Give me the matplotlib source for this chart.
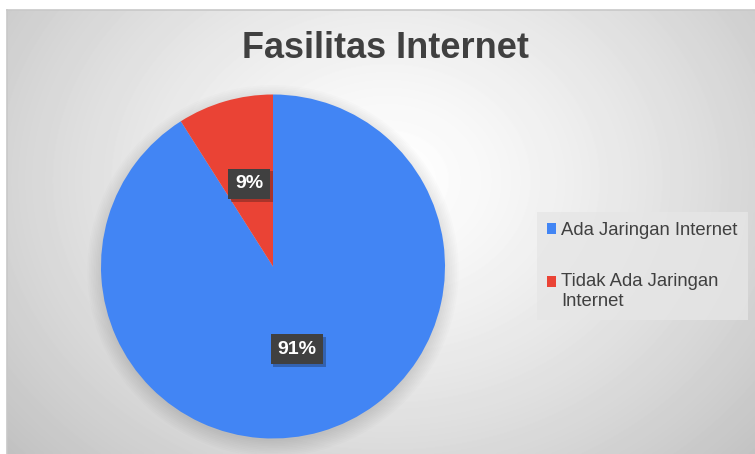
import numpy as np
import matplotlib.pyplot as plt
import matplotlib.patheffects as pe
from matplotlib.patches import Circle, Rectangle
from matplotlib.legend_handler import HandlerPatch

labels = ['Ada Jaringan Internet', 'Tidak Ada Jaringan\nInternet']
values = [91, 9]
colors = ['#4285F4', '#EA4335']
title = 'Fasilitas Internet'

W, H = 755, 454
fig = plt.figure(figsize=(W / 100, H / 100), dpi=100)
fig.patch.set_facecolor('white')

# radial gradient background of the chart area
bg = fig.add_axes([7 / W, 0, (W - 7) / W, (H - 10) / H])
yy, xx = np.mgrid[0:444, 0:748]
d = np.sqrt(((xx - 380) / 520.0) ** 2 + ((yy - 170) / 420.0) ** 2)
shade = 1.0 - 0.25 * np.clip(d, 0, 1) ** 1.3
bg.imshow(shade, cmap='gray', vmin=0, vmax=1, aspect='auto',
          extent=[0, 1, 0, 1], origin='upper', interpolation='bilinear')
bg.set_xlim(0, 1)
bg.set_ylim(0, 1)
for s in ['right', 'bottom']:
    bg.spines[s].set_visible(False)
for s in ['top', 'left']:
    bg.spines[s].set_color('#c8c8c8')
    bg.spines[s].set_linewidth(1.2)
bg.set_xticks([])
bg.set_yticks([])

fig.text(386 / W, 1 - 49 / H, title, ha='center', va='center',
         fontsize=26, fontweight='bold', color='#404040',
         family=['Liberation Sans Narrow', 'Liberation Sans', 'DejaVu Sans'])

# pie
cx, cy, r = 273, 266.5, 172
ax = fig.add_axes([(cx - 1.1 * r) / W, (H - cy - 1.1 * r) / H,
                   2.2 * r / W, 2.2 * r / H])
ax.patch.set_alpha(0)
# soft shadow, mostly below the pie
for k in range(10):
    ax.add_patch(Circle((0, -0.025), 0.99 + 0.01 * k, color='black',
                        alpha=0.012, lw=0, zorder=0))
wedges, texts, autotexts = ax.pie(values, colors=colors, startangle=90,
                                  counterclock=False, autopct='%1.0f%%',
                                  pctdistance=0.5,
                                  wedgeprops=dict(linewidth=0))
for t in autotexts:
    t.set_color('white')
    t.set_fontsize(14)
    t.set_fontweight('bold')
    t.set_family(['Liberation Sans', 'DejaVu Sans'])
    t.set_bbox(dict(boxstyle='square,pad=0.35', facecolor='#404040',
                    edgecolor='none'))
    t.get_bbox_patch().set_path_effects([
        pe.SimplePatchShadow(offset=(2, -2), alpha=0.3), pe.Normal()])
ax.set_xlim(-1.1, 1.1)
ax.set_ylim(-1.1, 1.1)
ax.set_aspect('equal')
ax.axis('off')


def square_top(legend, orig_handle, xdescent, ydescent, width, height, fontsize):
    # put the square next to the first line of a wrapped label
    return Rectangle((-xdescent, -ydescent + 0.55 * fontsize), width, height)


leg = fig.legend(wedges, labels, loc='upper left',
                 bbox_to_anchor=(537 / W, 1 - 212 / H),
                 frameon=True, fancybox=False, handlelength=0.5,
                 handleheight=0.5, handletextpad=0.25, labelspacing=1.85,
                 borderpad=0.55, borderaxespad=0,
                 handler_map={wedges[1]: HandlerPatch(patch_func=square_top)},
                 prop={'family': ['Liberation Sans', 'DejaVu Sans'], 'size': 13.3})
leg.get_frame().set_facecolor('#e6e6e6')
leg.get_frame().set_edgecolor('none')
leg.get_frame().set_alpha(0.8)
for t in leg.get_texts():
    t.set_color('#404040')

fig.savefig('out.png', dpi=100)
